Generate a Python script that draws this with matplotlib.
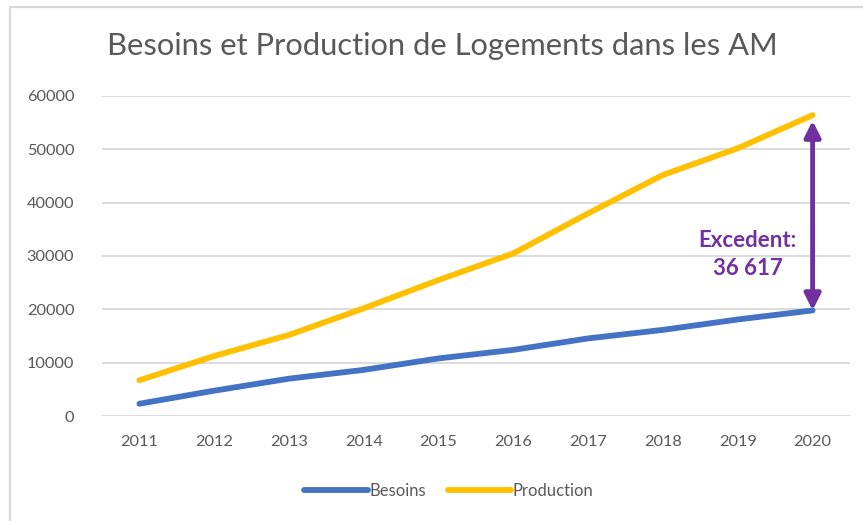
import matplotlib
matplotlib.use("Agg")
import matplotlib.pyplot as plt
from matplotlib.patches import Rectangle

years = [2011, 2012, 2013, 2014, 2015, 2016, 2017, 2018, 2019, 2020]
besoins = [2300, 4750, 7000, 8650, 10800, 12400, 14550, 16150, 18100, 19800]
production = [6700, 11250, 15200, 20200, 25500, 30500, 38000, 45200, 50200, 56417]
yticks = [0, 10000, 20000, 30000, 40000, 50000, 60000]
title = "Besoins et Production de Logements dans les AM"
annot_text = "Excedent:\n36 617"

plt.rcParams['font.family'] = ['Lato', 'DejaVu Sans']

W, H = 863, 521
fig = plt.figure(figsize=(W / 100, H / 100), dpi=100)
ax = fig.add_axes([102 / W, 1 - 416 / H, (850 - 102) / W, (416 - 96) / H])

blue = '#4472C4'
gold = '#FFC000'
gray_text = '#595959'

ax.plot(years, production, color=gold, lw=4.2, solid_capstyle='round', label='Production', zorder=3)
ax.plot(years, besoins, color=blue, lw=4.2, solid_capstyle='round', label='Besoins', zorder=3)

ax.set_xlim(2010.5, 2020.5)
ax.set_ylim(0, 60000)
ax.set_yticks(yticks)
ax.set_yticklabels([str(v) for v in yticks])
ax.set_xticks(years)
ax.set_xticklabels([str(y) for y in years])
ax.grid(axis='y', color='#D9D9D9', lw=1.3)
ax.set_axisbelow(True)
for s in ax.spines.values():
    s.set_visible(False)
ax.tick_params(axis='both', length=0, labelsize=11.8, labelcolor=gray_text)
ax.tick_params(axis='y', pad=20)
ax.tick_params(axis='x', pad=14)

# double arrow for the gap
purple = '#7030A0'
ax.annotate('', xy=(years[-1], production[-1]), xytext=(years[-1], besoins[-1]),
            arrowprops=dict(arrowstyle='<|-|>', color=purple, lw=3.5,
                            mutation_scale=24, shrinkA=0, shrinkB=4), zorder=4)
ax.text(2019.13, 30300, annot_text, color=purple,
        fontsize=16, fontweight='bold', ha='center', va='center', linespacing=1.4)

fig.text(442.5 / W, 1 - 46 / H, title, ha='center', va='center', fontsize=22.2, color=gray_text)

handles, labels = ax.get_legend_handles_labels()
leg = fig.legend(handles[::-1], labels[::-1], loc='center', bbox_to_anchor=(0.52, 1 - 491 / H),
                 ncol=2, frameon=False, fontsize=12, handlelength=3.8, columnspacing=1.3,
                 handletextpad=0.1)
for t in leg.get_texts():
    t.set_color(gray_text)

fig.patches.append(Rectangle((10 / W, -0.1), 1.2, 1 - 7 / H + 0.1, transform=fig.transFigure,
                             fill=False, edgecolor='#D9D9D9', lw=1.6))

fig.savefig('out.png', dpi=100)
